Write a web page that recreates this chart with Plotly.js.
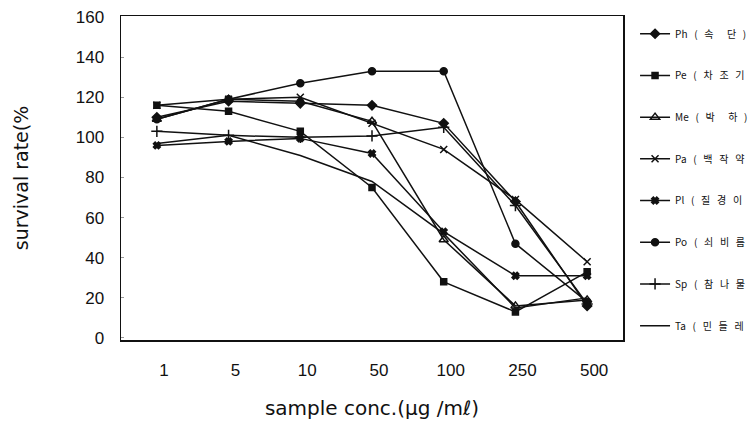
<!DOCTYPE html>
<html>
<head>
<meta charset="utf-8">
<script src="https://cdn.plot.ly/plotly-3.0.1.min.js"></script>
<style>
html,body{margin:0;padding:0;background:#fff;}
#chart{width:753px;height:432px;}
</style>
</head>
<body>
<div id="chart"></div>
<script>
// Categories (sample concentration, ug/ml)
const categories = ['1', '5', '10', '50', '100', '250', '500'];

// Legend labels (as visible in the reference, cut at the right edge)
const seriesNames = [
  'Ph ( 속  단 )',
  'Pe ( 차 조 기',
  'Me ( 박  하 )',
  'Pa ( 백 작 약',
  'Pl ( 질 경 이',
  'Po ( 쇠 비 름',
  'Sp ( 참 나 물',
  'Ta ( 민 들 레'
];

// Survival rate (%) per series
const ph = [110, 118, 117, 116, 107, 68, 16];
const pe = [116, 113, 103, 75, 28, 13, 33];
const me = [109, 119, 118, 108, 49, 16, 19];
const pa = [116, 119, 120, 107, 94, 69, 38];
const pl = [96, 98, 99.5, 92, 53, 31, 31];
const po = [109, 119, 127, 133, 133, 47, 18];
const sp = [103, 101, 100, 100.7, 105, 66, 17];
const ta = [97, 101, 91, 78, 52, 15, 20];

const seriesValues = [ph, pe, me, pa, pl, po, sp, ta];

const markerStyles = [
  {symbol: 'diamond', size: 7},
  {symbol: 'square', size: 6},
  {symbol: 'triangle-up-open', size: 8},
  {symbol: 'x-thin-open', size: 7},
  {symbol: 'x', size: 6},
  {symbol: 'circle', size: 7},
  {symbol: 'cross-thin-open', size: 8},
  {symbol: 'line-ns-open', size: 0}
];

const NB = '\u00A0';
function spaced(name) {
  // widen the gaps as in the scanned legend
  return name.replace(/ /g, NB + NB + NB);
}

const traces = seriesValues.map((vals, i) => ({
  type: 'scatter',
  mode: i === 7 ? 'lines' : 'lines+markers',
  x: categories,
  y: vals,
  name: spaced(seriesNames[i]),
  legendgroup: 'g' + i,
  line: {color: '#111', width: 1.5},
  marker: {
    symbol: markerStyles[i].symbol,
    size: markerStyles[i].size,
    color: '#111',
    line: {color: '#111', width: 1.5}
  }
}));

const layout = {
  width: 753,
  height: 432,
  paper_bgcolor: '#fff',
  plot_bgcolor: '#fff',
  margin: {l: 121, r: 130, t: 16, b: 92, autoexpand: false},
  font: {family: 'Arial, "Liberation Sans", sans-serif', color: '#111'},
  showlegend: true,
  legend: {
    x: 1.024, xanchor: 'left',
    y: 0.99, yanchor: 'top',
    tracegroupgap: 22.7,
    itemwidth: 30,
    font: {family: '"Noto Sans CJK KR", "Liberation Sans", sans-serif', size: 10, color: '#111'},
    bgcolor: 'rgba(0,0,0,0)'
  },
  xaxis: {
    type: 'category',
    range: [-0.5, 6.5],
    showline: true, mirror: true, linecolor: '#111', linewidth: 1.5,
    showgrid: false, zeroline: false,
    ticks: '',
    ticklabelstandoff: 14,
    ticklabelshift: 7,
    tickfont: {size: 17, family: 'Arial, "Liberation Sans", sans-serif'},
    title: {
      text: 'sample conc.(μg /mℓ)',
      font: {size: 20, family: '"DejaVu Sans", sans-serif'},
      standoff: 22
    }
  },
  yaxis: {
    range: [-1, 160.5],
    tickvals: [0, 20, 40, 60, 80, 100, 120, 140, 160],
    showline: true, mirror: true, linecolor: '#111', linewidth: 1.5,
    showgrid: false, zeroline: false,
    ticks: 'inside', ticklen: 3, tickcolor: '#999',
    ticklabelstandoff: 12,
    tickfont: {size: 17, family: 'Arial, "Liberation Sans", sans-serif'},
    title: {
      text: 'survival rate(%',
      font: {size: 19, family: '"DejaVu Sans", sans-serif'},
      standoff: 42
    }
  }
};

Plotly.newPlot('chart', traces, layout, {displayModeBar: false, staticPlot: true});
</script>
</body>
</html>
